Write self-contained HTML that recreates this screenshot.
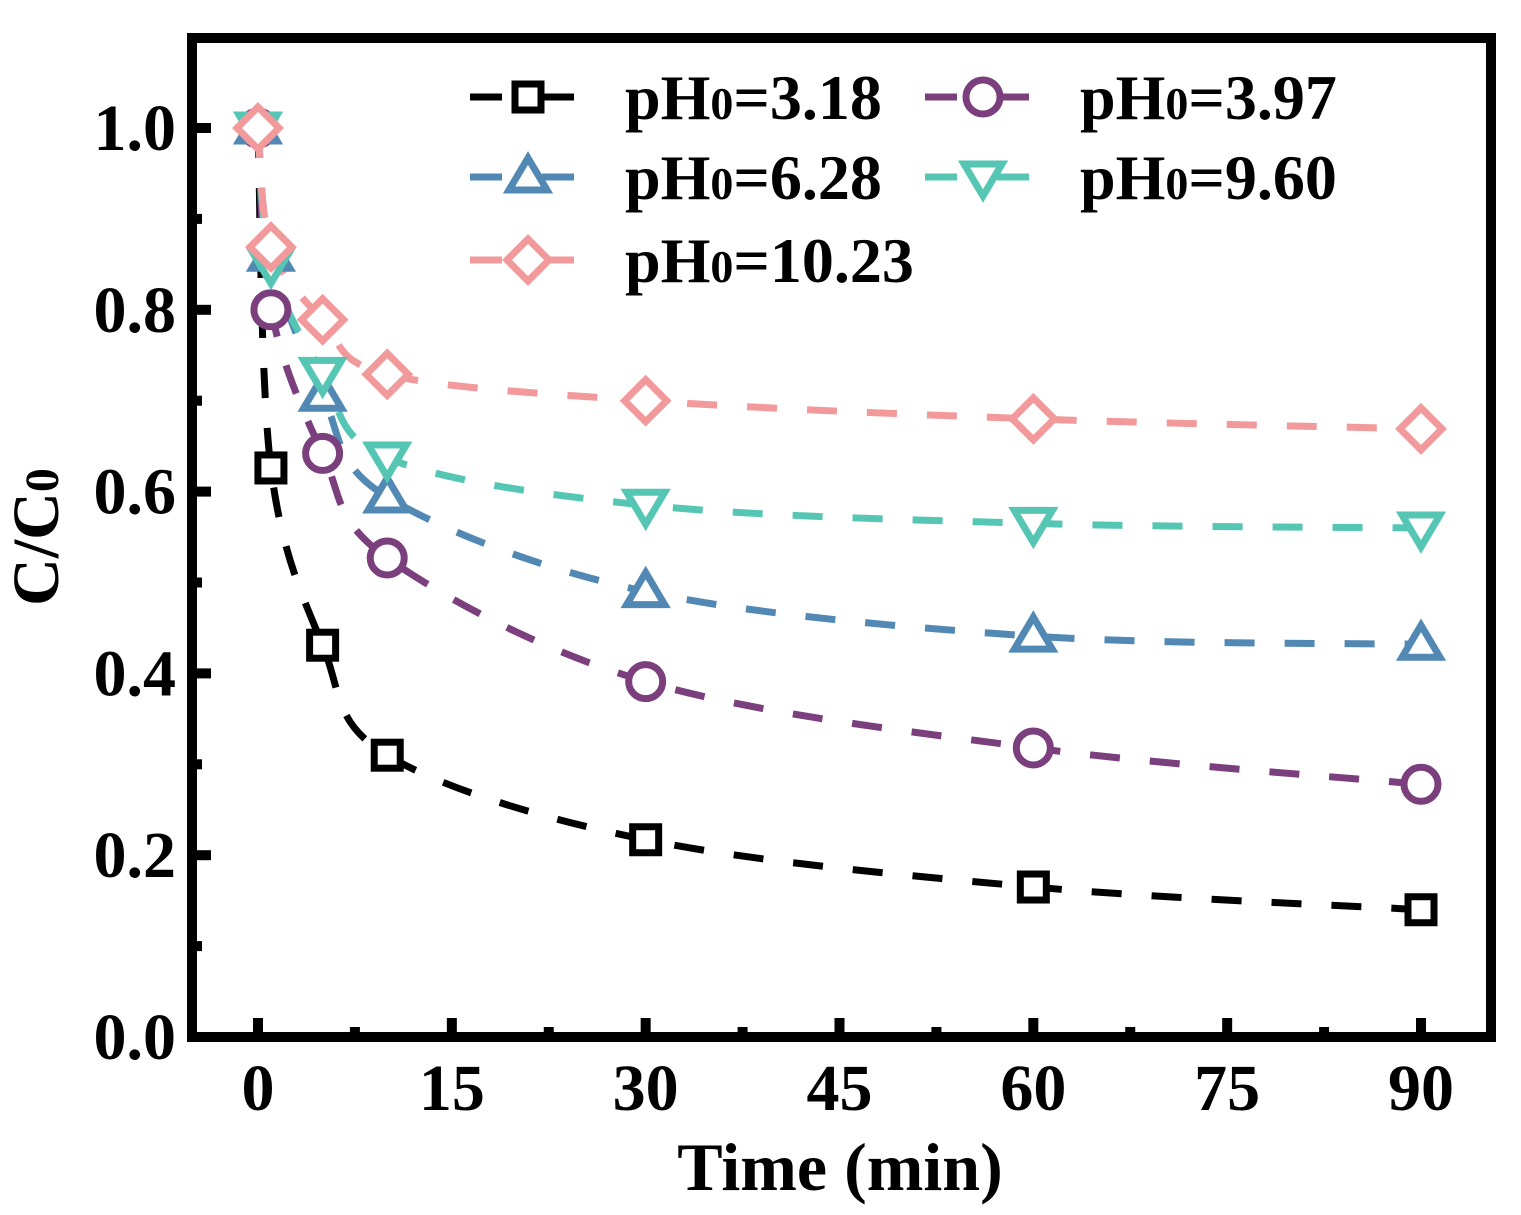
<!DOCTYPE html>
<html><head><meta charset="utf-8"><style>
body{margin:0;background:#fff}
svg{display:block}
text{font-family:"Liberation Serif",serif;font-weight:bold;fill:#000}
</style></head><body>
<svg id="chart" width="1521" height="1215" viewBox="0 0 1521 1215" xmlns="http://www.w3.org/2000/svg">
<g id="plot"></g>
</svg>
<script>
const times=[0,1,5,10,30,60,90];
const s318=[1.0,0.626,0.431,0.31,0.217,0.165,0.14];
const s397=[1.0,0.80,0.642,0.527,0.391,0.318,0.278];
const s628=[1.0,0.86,0.706,0.594,0.49,0.441,0.432];
const s960=[1.0,0.85,0.73,0.637,0.585,0.565,0.56];
const s1023=[1.0,0.869,0.789,0.729,0.70,0.68,0.669];
const xTicks=[0,15,30,45,60,75,90];
const yTicks=[0.0,0.2,0.4,0.6,0.8,1.0];
const legendLabels=["3.18","3.97","6.28","9.60","10.23"];

const NS="http://www.w3.org/2000/svg";
const X=t=>258+t*(1421-258)/90;
const Y=v=>1037-v*909;
const g=document.getElementById('plot');
function el(tag,attrs,parent){const e=document.createElementNS(NS,tag);for(const k in attrs)e.setAttribute(k,attrs[k]);(parent||g).appendChild(e);return e;}

const series=[
 {d:s318,c:"#000000",m:"square",n:"series-ph-3-18"},
 {d:s397,c:"#7b3f7e",m:"circle",n:"series-ph-3-97"},
 {d:s628,c:"#5289b4",m:"up",n:"series-ph-6-28"},
 {d:s960,c:"#55c6b3",m:"down",n:"series-ph-9-60"},
 {d:s1023,c:"#f29a9b",m:"diamond",n:"series-ph-10-23"}];

function smooth(pts){
 let d=`M${pts[0][0]},${pts[0][1]}`;
 for(let i=0;i<pts.length-1;i++){
  const p0=pts[Math.max(0,i-1)],p1=pts[i],p2=pts[i+1],p3=pts[Math.min(pts.length-1,i+2)];
  const k=1/6;
  d+=` C${p1[0]+(p2[0]-p0[0])*k},${p1[1]+(p2[1]-p0[1])*k} ${p2[0]-(p3[0]-p1[0])*k},${p2[1]-(p3[1]-p1[1])*k} ${p2[0]},${p2[1]}`;
 }
 return d;
}
function marker(type,x,y,c,parent){
 const a={fill:"#fff",stroke:c,"stroke-width":7};
 let e;
 if(type==="square")e=el('rect',Object.assign({x:x-13,y:y-13,width:26,height:26},a),parent);
 else if(type==="circle")e=el('circle',Object.assign({cx:x,cy:y,r:17},a),parent);
 else if(type==="up")e=el('polygon',Object.assign({points:`${x},${y-19} ${x+19},${y+13} ${x-19},${y+13}`},a),parent);
 else if(type==="down")e=el('polygon',Object.assign({points:`${x},${y+19} ${x+19},${y-13} ${x-19},${y-13}`},a),parent);
 else e=el('polygon',Object.assign({points:`${x},${y-21} ${x+21},${y} ${x},${y+21} ${x-21},${y}`},a),parent);
 
 
 return e;
}
series.forEach(s=>{
 const grp=el('g',{});
 
 
 const pts=times.map((t,i)=>[X(t),Y(s.d[i])]);
 el('path',{d:smooth(pts),fill:"none",stroke:s.c,"stroke-width":7,"stroke-dasharray":"30 30"},grp);
});
series.forEach(s=>{
 times.forEach((t,i)=>marker(s.m,X(t),Y(s.d[i]),s.c));
});
const fr=el('rect',{x:192,y:38,width:1299,height:999,fill:"none",stroke:"#000","stroke-width":10});


xTicks.forEach(t=>{
 const x=X(t);
 el('line',{x1:x,x2:x,y1:1032,y2:1018,stroke:"#000","stroke-width":10});
 const tx=el('text',{x:x,y:1110,"text-anchor":"middle","font-size":66});
 tx.textContent=t;
 
 
 if(t<90){const xm=X(t+7.5);el('line',{x1:xm,x2:xm,y1:1032,y2:1027,stroke:"#000","stroke-width":10});}
});
yTicks.forEach(v=>{
 const y=Y(v);
 el('line',{x1:197,x2:211,y1:y,y2:y,stroke:"#000","stroke-width":10});
 const tx=el('text',{x:176,y:y+22,"text-anchor":"end","font-size":66});
 tx.textContent=v.toFixed(1);
 
 
 if(v<1.0){const ym=Y(v+0.1);el('line',{x1:197,x2:202,y1:ym,y2:ym,stroke:"#000","stroke-width":10});}
});
const xt=el('text',{x:840,y:1190,"text-anchor":"middle","font-size":68});
xt.textContent="Time (min)";


const yt=el('text',{x:58,y:537,"text-anchor":"middle","font-size":66,transform:"rotate(-90 58 537)"});
yt.innerHTML='C/C<tspan font-size="48">0</tspan>';


const lg=el('g',{});


const pos=[[470,97],[925,97],[470,177],[925,177],[470,260]];
series.forEach((s,i)=>{
 const [x,y]=pos[i];
 const e=el('g',{},lg);
 
 
 el('line',{x1:x,x2:x+32,y1:y,y2:y,stroke:s.c,"stroke-width":7},e);
 el('line',{x1:x+72,x2:x+104,y1:y,y2:y,stroke:s.c,"stroke-width":7},e);
 marker(s.m,x+58,y,s.c,e);
 const t=el('text',{x:x+155,y:y+22,"font-size":64},e);
 t.innerHTML='pH<tspan font-size="46">0</tspan>='+legendLabels[i];
});
</script>
</body></html>
